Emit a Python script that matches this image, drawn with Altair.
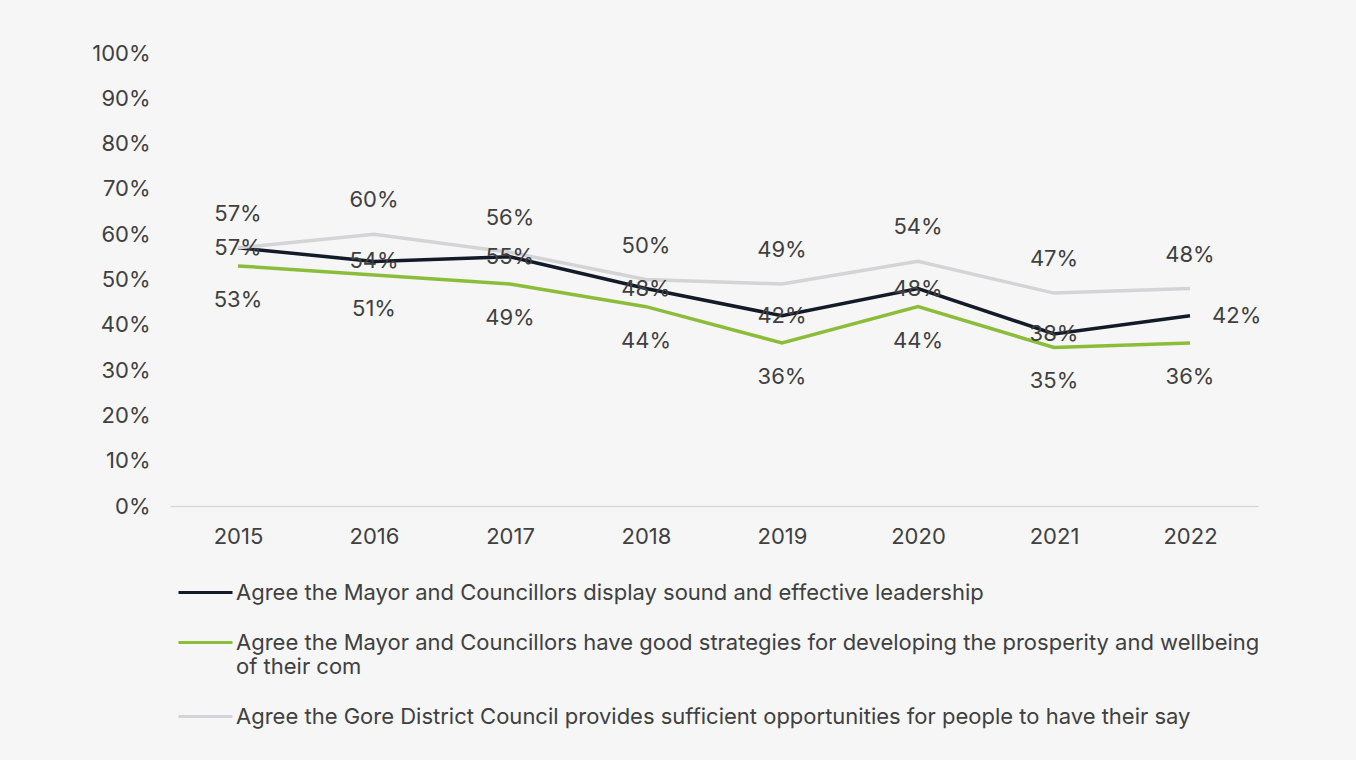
import altair as alt
import pandas as pd

years = ["2015", "2016", "2017", "2018", "2019", "2020", "2021", "2022"]
s_leader = "Agree the Mayor and Councillors display sound and effective leadership"
s_strat = "Agree the Mayor and Councillors have good strategies for developing the prosperity and wellbeing of their com"
s_say = "Agree the Gore District Council provides sufficient opportunities for people to have their say"
series = [s_leader, s_strat, s_say]
leadership = [0.57, 0.54, 0.55, 0.48, 0.42, 0.48, 0.38, 0.42]
strategies = [0.53, 0.51, 0.49, 0.44, 0.36, 0.44, 0.35, 0.36]
say = [0.57, 0.60, 0.56, 0.50, 0.49, 0.54, 0.47, 0.48]
colors = ["#141b28", "#8cbd3a", "#d4d4d6"]
y_ticks = [i / 10 for i in range(11)]

rows = []
for name, vals in zip(series, [leadership, strategies, say]):
    for y, v in zip(years, vals):
        rows.append({"year": y, "value": v, "series": name})
df = pd.DataFrame(rows)

FONT = "Inter"
FS = 22
TXT = "#404040"

label_expr = (
    f"datum.label == '{s_strat}' ? "
    "['Agree the Mayor and Councillors have good strategies for developing the prosperity and wellbeing', 'of their com'] "
    ": datum.label"
)

x = alt.X("year:O", title=None, scale=alt.Scale(type="point", padding=0.5),
          axis=alt.Axis(labelAngle=0, ticks=False, domainColor="#d9d9d9", domainWidth=1.5,
                        labelPadding=20, labelFontSize=FS, labelColor=TXT, labelFont=FONT, grid=False))
y = alt.Y("value:Q", title=None, scale=alt.Scale(domain=[0, 1]),
          axis=alt.Axis(values=y_ticks, format=".0%", ticks=False, domain=False, grid=False,
                        labelPadding=20, labelFontSize=FS, labelColor=TXT, labelFont=FONT))
color = alt.Color("series:N", sort=series,
                  scale=alt.Scale(domain=series, range=colors),
                  legend=alt.Legend(title=None, orient="none", legendX=7, legendY=511,
                                    direction="vertical", symbolType="stroke", symbolSize=2916,
                                    symbolStrokeWidth=3, labelFontSize=FS, labelFont=FONT,
                                    labelColor=TXT, labelLimit=1200, labelOffset=2,
                                    rowPadding=10, labelExpr=label_expr))

base = alt.Chart(df)
lines = base.mark_line(strokeWidth=3.5).encode(x=x, y=y, color=color)

text_props = dict(fontSize=FS, font=FONT, color=TXT)
t_leader = base.transform_filter(
    (alt.datum.series == s_leader) & (alt.datum.year != "2022")
).mark_text(baseline="middle", **text_props).encode(x=x, y=y, text=alt.Text("value:Q", format=".0%"))
t_leader_last = base.transform_filter(
    (alt.datum.series == s_leader) & (alt.datum.year == "2022")
).mark_text(baseline="middle", align="left", dx=22, **text_props).encode(x=x, y=y, text=alt.Text("value:Q", format=".0%"))
t_strat = base.transform_filter(alt.datum.series == s_strat).mark_text(
    baseline="middle", dy=34, **text_props).encode(x=x, y=y, text=alt.Text("value:Q", format=".0%"))
t_say = base.transform_filter(alt.datum.series == s_say).mark_text(
    baseline="middle", dy=-34, **text_props).encode(x=x, y=y, text=alt.Text("value:Q", format=".0%"))

chart = alt.layer(lines, t_leader, t_leader_last, t_strat, t_say).properties(
    width=1088, height=453,
    autosize=alt.AutoSizeParams(type="none"),
    padding={"left": 170, "top": 53, "right": 98, "bottom": 254},
    background="#f6f6f6",
).configure_view(stroke=None)

chart.save("out.html", embed_options={"renderer": "svg", "actions": False})
